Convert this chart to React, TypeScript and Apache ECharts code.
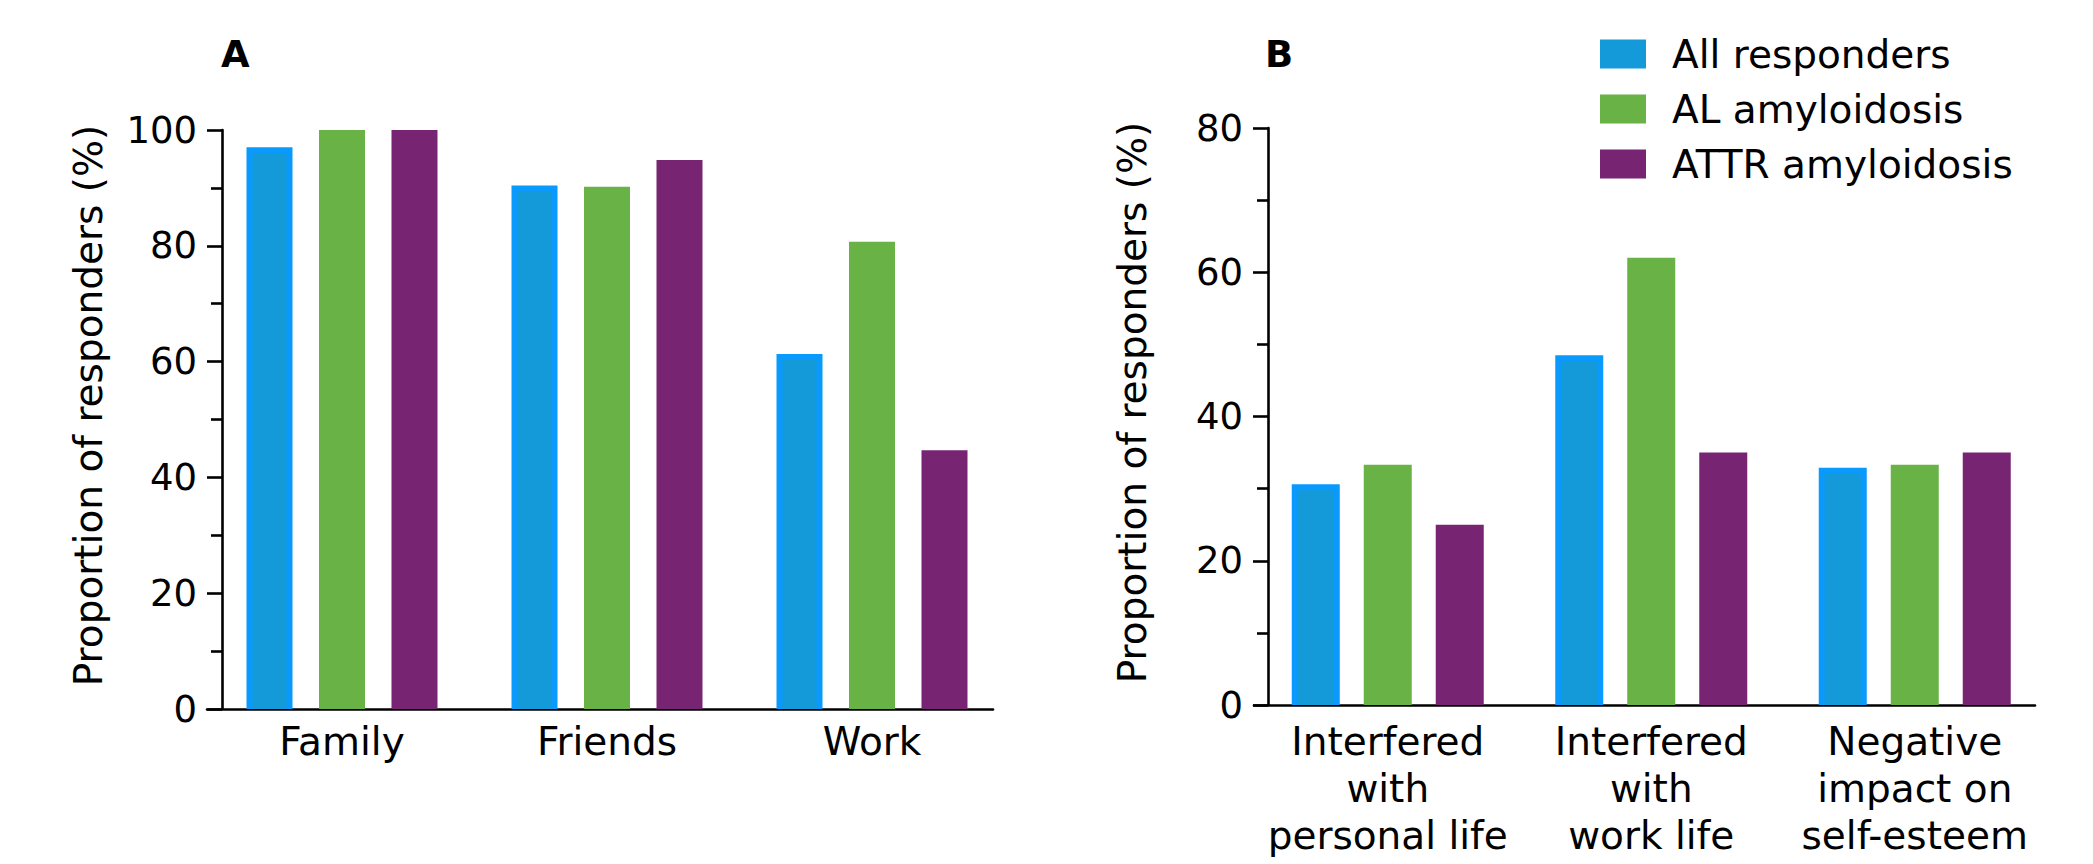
import React, { useEffect, useRef } from "react";
import * as echarts from "echarts";

// Series and colours
const seriesNames = ["All responders", "AL amyloidosis", "ATTR amyloidosis"];
const barColors = ["#0A99FD", "#68B246", "#772472"];
const allFill = "#149AD8";

// Panel A: relationships
const catsA = ["Family", "Friends", "Work"];
const allA = [97, 90.4, 61.3];
const alA = [100, 90.2, 80.7];
const attrA = [100, 94.8, 44.7];

// Panel B: impact on daily life
const catsB = [
  "Interfered\nwith\npersonal life",
  "Interfered\nwith\nwork life",
  "Negative\nimpact on\nself-esteem",
];
const allB = [30.6, 48.5, 32.9];
const alB = [33.3, 62.0, 33.3];
const attrB = [25, 35, 35];

const yMaxA = 100;
const yMaxB = 80;
const yStep = 20;

const FONT = "DejaVu Sans";
const INK = "#000";
const LINE_W = 2.6;
const TEXT_SIZE = 39;

function insetRenderer(barW: number, slotOffset: number, inset: number) {
  return (_params: any, api: any) => {
    const top = api.coord([api.value(0), api.value(1)]);
    const base = api.coord([api.value(0), 0]);
    const x = top[0] + slotOffset - barW / 2 + inset;
    return {
      type: "rect",
      shape: {
        x,
        y: top[1] + inset,
        width: barW - 2 * inset,
        height: Math.max(0, base[1] - top[1] - inset),
      },
      style: { fill: allFill },
    };
  };
}

function valueAxis(gridIndex: number, max: number, offset: number, nameGap: number) {
  return {
    type: "value",
    gridIndex,
    min: 0,
    max,
    interval: yStep,
    offset,
    name: "Proportion of responders (%)",
    nameLocation: "middle",
    nameGap,
    nameTextStyle: {
      fontFamily: FONT,
      fontSize: TEXT_SIZE,
      color: INK,
      padding: [0, 0, 0, 28],
    },
    axisLine: { show: true, lineStyle: { color: INK, width: LINE_W } },
    axisTick: { show: true, length: 15, lineStyle: { color: INK, width: LINE_W } },
    minorTick: { show: true, splitNumber: 2, length: 11, lineStyle: { color: INK, width: LINE_W } },
    axisLabel: { fontFamily: FONT, fontSize: 37, color: INK, margin: 25 },
    splitLine: { show: false },
  };
}

function hiddenValueAxis(gridIndex: number) {
  return {
    type: "value",
    gridIndex,
    min: 0,
    max: 1,
    show: false,
  };
}

function baseLineAxis(gridIndex: number) {
  return {
    type: "value",
    gridIndex,
    min: 0,
    max: 1,
    axisLine: { show: true, onZero: false, lineStyle: { color: INK, width: LINE_W } },
    axisTick: { show: false },
    axisLabel: { show: false },
    splitLine: { show: false },
  };
}

function categoryAxis(gridIndex: number, data: string[], margin: number) {
  return {
    type: "category",
    gridIndex,
    data,
    axisLine: { show: false },
    axisTick: { show: false },
    axisLabel: {
      interval: 0,
      fontFamily: FONT,
      fontSize: TEXT_SIZE,
      lineHeight: 47,
      color: INK,
      margin,
    },
  };
}

function barSeries(name: string, data: number[], color: string, axisIdx: number, barWidth: number, barGap: string) {
  return {
    type: "bar",
    name,
    xAxisIndex: axisIdx,
    yAxisIndex: axisIdx,
    data,
    barWidth,
    barGap,
    itemStyle: { color },
  };
}

export default function App() {
  const ref = useRef<HTMLDivElement>(null);

  useEffect(() => {
    if (!ref.current) return;
    const chart = echarts.init(ref.current, undefined, { renderer: "svg" });

    const option: any = {
      animation: false,
      backgroundColor: "#fff",
      textStyle: { fontFamily: FONT },
      grid: [
        { left: 209.5, top: 130, width: 795, height: 579 },
        { left: 207, top: 130, width: 786, height: 579 },
        { left: 1256, top: 128, width: 790.5, height: 577 },
        { left: 1254, top: 128, width: 781, height: 577 },
      ],
      xAxis: [
        categoryAxis(0, catsA, 9),
        baseLineAxis(1),
        categoryAxis(2, catsB, 13),
        baseLineAxis(3),
      ],
      yAxis: [
        valueAxis(0, yMaxA, -12.5, 114),
        hiddenValueAxis(1),
        valueAxis(2, yMaxB, -12, 116),
        hiddenValueAxis(3),
      ],
      legend: {
        orient: "vertical",
        left: 1595,
        top: 29,
        itemWidth: 46,
        itemHeight: 29,
        itemGap: 15,
        icon: "rect",
        selectedMode: false,
        textStyle: {
          fontFamily: FONT,
          fontSize: TEXT_SIZE,
          lineHeight: 40,
          color: INK,
          padding: [0, 0, 0, 21],
        },
        data: seriesNames.map((n, i) => ({
          name: n,
          itemStyle: { color: i === 0 ? allFill : barColors[i] },
        })),
      },
      graphic: [
        {
          type: "text",
          left: 221,
          top: 36,
          style: { text: "A", font: `bold 37px "${FONT}"`, fill: INK },
        },
        {
          type: "text",
          left: 1265,
          top: 36,
          style: { text: "B", font: `bold 37px "${FONT}"`, fill: INK },
        },
      ],
      series: [
        barSeries(seriesNames[0], allA, barColors[0], 0, 46, "57.6%"),
        barSeries(seriesNames[1], alA, barColors[1], 0, 46, "57.6%"),
        barSeries(seriesNames[2], attrA, barColors[2], 0, 46, "57.6%"),
        {
          type: "custom",
          name: "All responders fill A",
          xAxisIndex: 0,
          yAxisIndex: 0,
          z: 3,
          data: allA.map((v, i) => [i, v]),
          renderItem: insetRenderer(46, -72.5, 6),
        },
        barSeries(seriesNames[0], allB, barColors[0], 2, 48, "50%"),
        barSeries(seriesNames[1], alB, barColors[1], 2, 48, "50%"),
        barSeries(seriesNames[2], attrB, barColors[2], 2, 48, "50%"),
        {
          type: "custom",
          name: "All responders fill B",
          xAxisIndex: 2,
          yAxisIndex: 2,
          z: 3,
          data: allB.map((v, i) => [i, v]),
          renderItem: insetRenderer(48, -72, 6),
        },
      ],
    };

    chart.setOption(option);
    return () => chart.dispose();
  }, []);

  return (
    <div
      ref={ref}
      style={{ position: "fixed", left: 0, top: 0, width: 2093, height: 864, background: "#fff" }}
    />
  );
}
